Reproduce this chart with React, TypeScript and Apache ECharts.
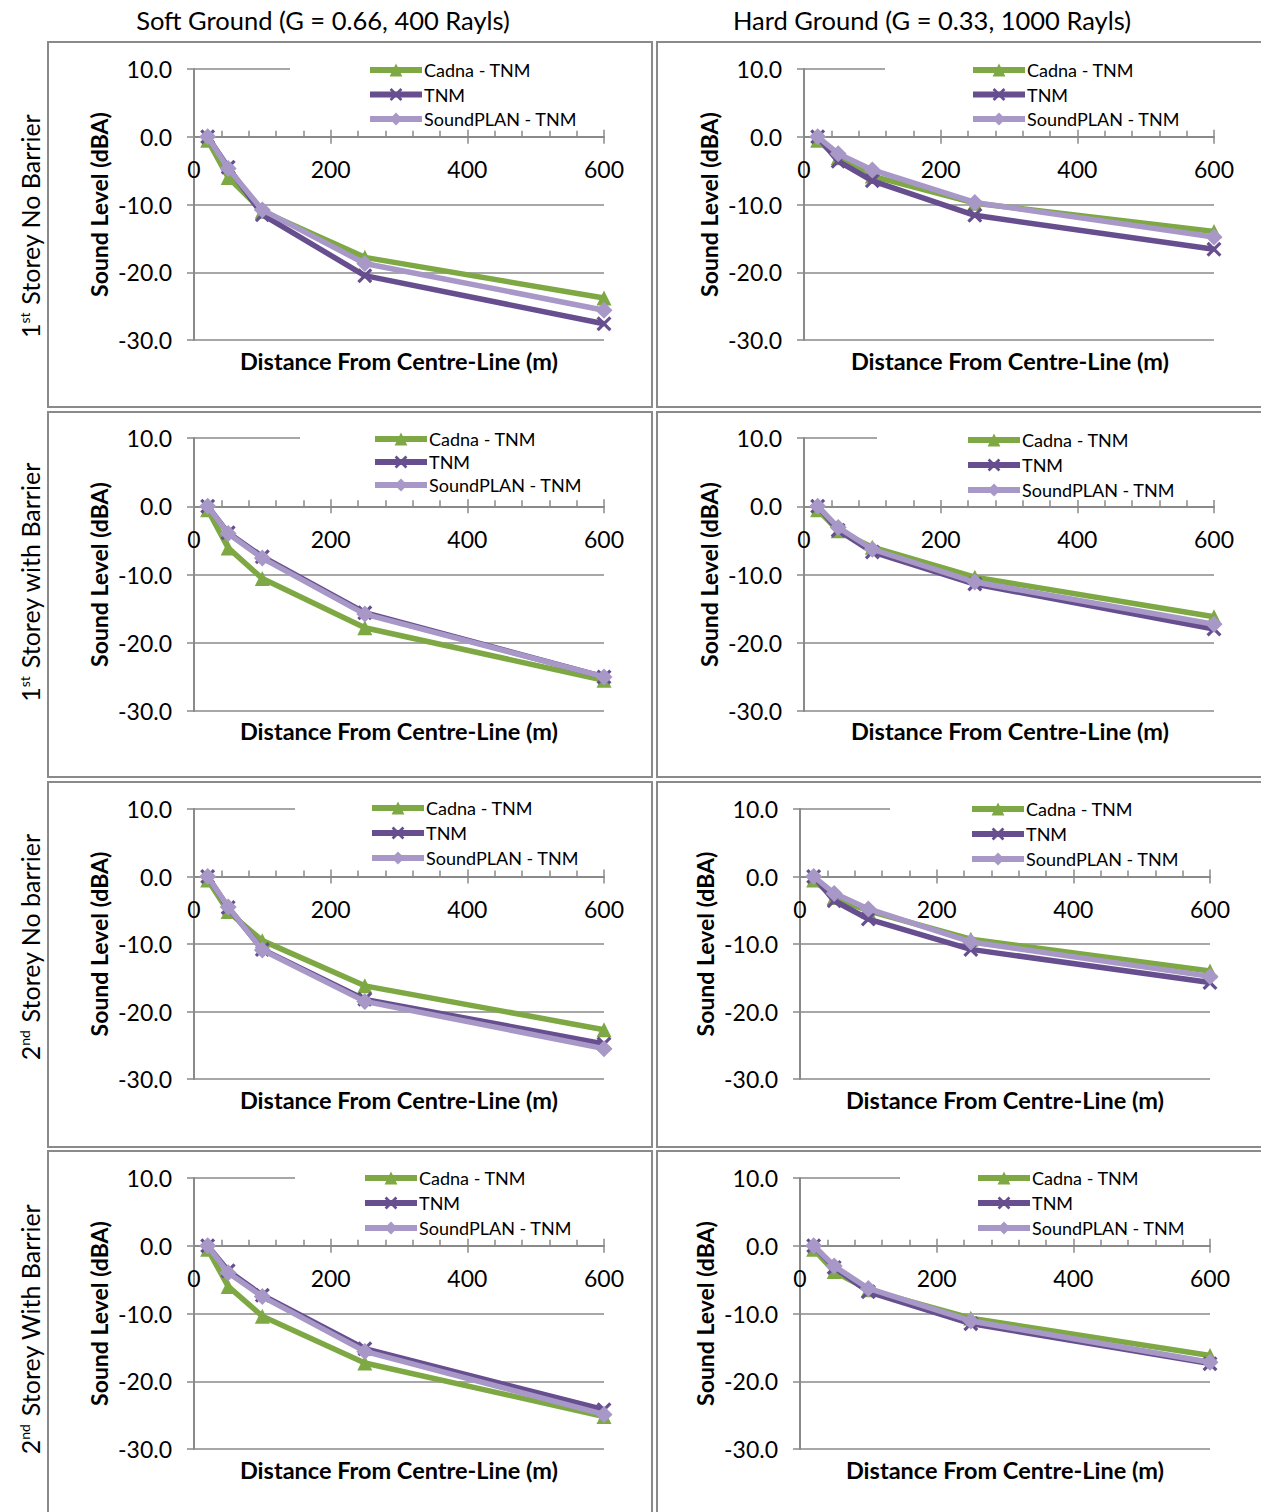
import React, { useEffect, useRef } from 'react';
import * as echarts from 'echarts';

const DIST = [20, 50, 100, 250, 600];
const SERIES_NAMES = ['Cadna - TNM', 'TNM', 'SoundPLAN - TNM'];
const COL_TITLES = ['Soft Ground (G = 0.66, 400 Rayls)', 'Hard Ground (G = 0.33, 1000 Rayls)'];
const ROW_LABELS = [
  '1{sup|st} Storey No Barrier',
  '1{sup|st} Storey with Barrier',
  '2{sup|nd} Storey No barrier',
  '2{sup|nd} Storey With Barrier',
];
const X_NAME = 'Distance From Centre-Line (m)';
const Y_NAME = 'Sound Level (dBA)';
const Y_MIN = -30;
const Y_MAX = 10;
const Y_STEP = 10;
const X_MIN = 0;
const X_MAX = 600;
const X_STEP = 200;

// Row 1 : 1st storey, no barrier
const SOFT_1NB_CADNA = [-0.5, -6.0, -11.0, -17.8, -23.8];
const SOFT_1NB_TNM = [0, -4.5, -11.5, -20.5, -27.6];
const SOFT_1NB_SP = [0, -4.7, -10.8, -18.7, -25.6];
const HARD_1NB_CADNA = [-0.5, -3.1, -5.8, -9.8, -14.0];
const HARD_1NB_TNM = [0, -3.6, -6.5, -11.6, -16.6];
const HARD_1NB_SP = [0, -2.5, -4.9, -9.7, -14.8];
// Row 2 : 1st storey, with barrier
const SOFT_1B_CADNA = [-0.5, -6.1, -10.6, -17.8, -25.5];
const SOFT_1B_TNM = [0, -3.9, -7.4, -15.6, -25.0];
const SOFT_1B_SP = [0, -4.0, -7.6, -15.8, -25.0];
const HARD_1B_CADNA = [-0.5, -3.6, -6.0, -10.4, -16.2];
const HARD_1B_TNM = [0, -3.5, -6.7, -11.4, -18.0];
const HARD_1B_SP = [0, -3.1, -6.3, -11.1, -17.3];
// Row 3 : 2nd storey, no barrier
const SOFT_2NB_CADNA = [-0.5, -5.2, -9.5, -16.2, -22.7];
const SOFT_2NB_TNM = [0, -4.6, -10.8, -18.2, -24.8];
const SOFT_2NB_SP = [0, -4.5, -10.9, -18.5, -25.5];
const HARD_2NB_CADNA = [-0.5, -3.1, -5.1, -9.3, -14.0];
const HARD_2NB_TNM = [0, -3.6, -6.3, -10.8, -15.7];
const HARD_2NB_SP = [0, -2.5, -4.8, -9.7, -14.8];
// Row 4 : 2nd storey, with barrier
const SOFT_2B_CADNA = [-0.5, -6.0, -10.4, -17.3, -25.2];
const SOFT_2B_TNM = [0, -3.7, -7.3, -15.2, -24.2];
const SOFT_2B_SP = [0, -4.0, -7.5, -15.6, -24.9];
const HARD_2B_CADNA = [-0.5, -3.8, -6.5, -10.7, -16.2];
const HARD_2B_TNM = [0, -3.2, -6.8, -11.5, -17.4];
const HARD_2B_SP = [0, -3.0, -6.3, -11.1, -17.2];

const PANEL_DATA = [
  [SOFT_1NB_CADNA, SOFT_1NB_TNM, SOFT_1NB_SP],
  [HARD_1NB_CADNA, HARD_1NB_TNM, HARD_1NB_SP],
  [SOFT_1B_CADNA, SOFT_1B_TNM, SOFT_1B_SP],
  [HARD_1B_CADNA, HARD_1B_TNM, HARD_1B_SP],
  [SOFT_2NB_CADNA, SOFT_2NB_TNM, SOFT_2NB_SP],
  [HARD_2NB_CADNA, HARD_2NB_TNM, HARD_2NB_SP],
  [SOFT_2B_CADNA, SOFT_2B_TNM, SOFT_2B_SP],
  [HARD_2B_CADNA, HARD_2B_TNM, HARD_2B_SP],
];

// layout (pixels)
const LAYOUT = [
  { l: 194, r: 604, t: 69, b: 340, lgIcon: 367, lgBg: 290, lgY: 69, lgStep: 24.5, xnX: 399, xnY: 361 },
  { l: 804, r: 1214, t: 69, b: 340, lgIcon: 970, lgBg: 885, lgY: 69, lgStep: 24.5, xnX: 1010, xnY: 361 },
  { l: 194, r: 604, t: 438, b: 711, lgIcon: 372, lgBg: 300, lgY: 438, lgStep: 23, xnX: 399, xnY: 731 },
  { l: 804, r: 1214, t: 438, b: 711, lgIcon: 965, lgBg: 877, lgY: 439, lgStep: 25, xnX: 1010, xnY: 731 },
  { l: 194, r: 604, t: 809, b: 1079, lgIcon: 369, lgBg: 295, lgY: 807, lgStep: 25, xnX: 399, xnY: 1100 },
  { l: 800, r: 1210, t: 809, b: 1079, lgIcon: 969, lgBg: 890, lgY: 808, lgStep: 25, xnX: 1005, xnY: 1100 },
  { l: 194, r: 604, t: 1178, b: 1449, lgIcon: 362, lgBg: 295, lgY: 1177, lgStep: 25, xnX: 399, xnY: 1470 },
  { l: 800, r: 1210, t: 1178, b: 1449, lgIcon: 975, lgBg: 900, lgY: 1177, lgStep: 25, xnX: 1005, xnY: 1470 },
];
const BOXES = [
  [48, 42, 604, 365], [657, 42, 610, 365],
  [48, 412, 604, 365], [657, 412, 610, 365],
  [48, 782, 604, 365], [657, 782, 610, 365],
  [48, 1151, 604, 370], [657, 1151, 610, 370],
];
const ROW_CENTERS = [226, 582, 947, 1329];
const COL_TITLE_X = [323, 932];

const FONT = 'Lato, "Open Sans", sans-serif';
const COLORS = ['#7ea843', '#674f8f', '#a898c7'];
const AXIS_GRAY = '#8a8a8a';
const CROSS = 'path://M0,1.5 L1.5,0 L5,3.5 L8.5,0 L10,1.5 L6.5,5 L10,8.5 L8.5,10 L5,6.5 L1.5,10 L0,8.5 L3.5,5 Z';
const SYMBOLS = ['triangle', CROSS, 'diamond'];
const SYMBOL_SIZES = [15, 15, 17];

export default function App() {
  const ref = useRef<HTMLDivElement>(null);
  useEffect(() => {
    if (!ref.current) return;
    const chart = echarts.init(ref.current, undefined, { renderer: 'svg' });
    const grid: any[] = [];
    const xAxis: any[] = [];
    const yAxis: any[] = [];
    const legend: any[] = [];
    const series: any[] = [];
    const graphic: any[] = [];

    BOXES.forEach(([x, y, w, h]) => {
      graphic.push({
        type: 'rect', shape: { x, y, width: w, height: h }, silent: true, z: -1,
        style: { fill: 'none', stroke: AXIS_GRAY, lineWidth: 2 },
      });
    });
    COL_TITLES.forEach((t, i) => {
      graphic.push({
        type: 'text', x: COL_TITLE_X[i], y: 20,
        style: { text: t, font: `25.5px ${FONT}`, fill: '#000', align: 'center', verticalAlign: 'middle' },
      });
    });
    ROW_LABELS.forEach((t, i) => {
      graphic.push({
        type: 'text', x: 30, y: ROW_CENTERS[i], rotation: Math.PI / 2,
        style: {
          text: t, fontSize: 25, fontFamily: FONT, fill: '#000', align: 'center', verticalAlign: 'middle',
          rich: { sup: { fontSize: 14, fontFamily: FONT, verticalAlign: 'top', padding: [0, 1, 10, 0] } },
        },
      });
    });

    const n = LAYOUT.length;
    // data grids (0..n-1)
    LAYOUT.forEach((L, p) => {
      grid.push({ left: L.l, top: L.t, width: L.r - L.l, height: L.b - L.t, containLabel: false });
      xAxis.push({
        type: 'value', gridIndex: p, min: X_MIN, max: X_MAX, interval: X_STEP,
        axisLine: { show: false }, axisTick: { show: false }, axisLabel: { show: false },
        splitLine: { show: false },
      });
      yAxis.push({
        type: 'value', gridIndex: p, min: Y_MIN, max: Y_MAX, interval: Y_STEP,
        axisLine: { show: true, onZero: false, lineStyle: { color: AXIS_GRAY, width: 2 } },
        axisTick: { show: true, length: 7, lineStyle: { color: AXIS_GRAY, width: 1.5 } },
        axisLabel: { fontSize: 23, fontFamily: FONT, color: '#000', margin: 22, formatter: (v: number) => v.toFixed(1) },
        splitLine: { show: true, lineStyle: { color: AXIS_GRAY, width: 1.5 } },
        name: Y_NAME, nameLocation: 'middle', nameGap: 84,
        nameTextStyle: { fontSize: 23, fontWeight: 'bold', fontFamily: FONT, color: '#000' },
      });
      legend.push({
        orient: 'vertical', left: L.lgBg, top: L.lgY - 8 - 5,
        padding: [5, 60, 1, L.lgIcon - L.lgBg], backgroundColor: '#fff',
        itemWidth: 52, itemHeight: 16, itemGap: L.lgStep - 18,
        lineStyle: { width: 6 },
        textStyle: { fontSize: 18, lineHeight: 16, fontFamily: FONT, color: '#000', padding: [0, 0, 0, -3] },
        data: SERIES_NAMES,
      });
      PANEL_DATA[p].forEach((vals, s) => {
        series.push({
          type: 'line', name: SERIES_NAMES[s], xAxisIndex: p, yAxisIndex: p,
          data: DIST.map((d, i) => [d, vals[i]]),
          symbol: SYMBOLS[s], symbolSize: SYMBOL_SIZES[s],
          lineStyle: { color: COLORS[s], width: 5.5 },
          itemStyle: { color: COLORS[s] },
          z: 2 + s,
        });
      });
      graphic.push({
        type: 'text', x: L.xnX, y: L.xnY,
        style: { text: X_NAME, font: `bold 23.5px ${FONT}`, fill: '#000', align: 'center', verticalAlign: 'middle' },
      });
    });
    // zero-line axis grids (n..2n-1): a flat grid whose bottom edge sits at the y = 0 level
    LAYOUT.forEach((L, p) => {
      const y0 = L.t + ((Y_MAX - 0) / (Y_MAX - Y_MIN)) * (L.b - L.t);
      grid.push({ left: L.l, top: y0 - 1, width: L.r - L.l, height: 1, containLabel: false });
      yAxis.push({ type: 'value', gridIndex: n + p, min: 0, max: 1, show: false });
    });
    LAYOUT.forEach((L, p) => {
      xAxis.push({
        type: 'value', gridIndex: n + p, min: X_MIN, max: X_MAX, interval: X_STEP, position: 'bottom',
        axisLine: { show: true, onZero: false, lineStyle: { color: AXIS_GRAY, width: 2 } },
        axisTick: { show: true, inside: true, length: 7, lineStyle: { color: AXIS_GRAY, width: 1.5 } },
        minorTick: { show: true, splitNumber: 5, length: 6, lineStyle: { color: AXIS_GRAY, width: 1.5 } },
        axisLabel: { fontSize: 23, fontFamily: FONT, color: '#000', margin: 21 },
        splitLine: { show: false },
        z: 1,
      });
    });
    // downward halves of the major ticks (Excel "cross" tick marks)
    LAYOUT.forEach((L, p) => {
      xAxis.push({
        type: 'value', gridIndex: n + p, min: X_MIN, max: X_MAX, interval: X_STEP, position: 'bottom',
        axisLine: { show: false, onZero: false },
        axisTick: { show: true, inside: false, length: 7, lineStyle: { color: AXIS_GRAY, width: 1.5 } },
        axisLabel: { show: false },
        splitLine: { show: false },
        z: 1,
      });
    });

    chart.setOption({
      animation: false,
      backgroundColor: '#fff',
      grid, xAxis, yAxis, legend, series, graphic,
    });
    return () => chart.dispose();
  }, []);
  return <div ref={ref} style={{ position: 'absolute', left: 0, top: 0, width: 1261, height: 1512 }} />;
}
